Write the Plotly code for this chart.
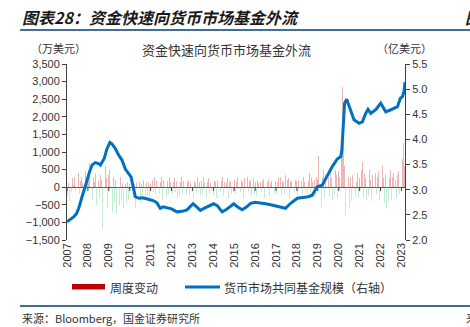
import plotly.graph_objects as go

# ---------------- data ----------------
years = list(range(2007, 2024))
tick_labels = [str(y) for y in years]

# semi-monthly fund-flow changes (万美元), 24 per year
flow_2007 = [-250, 120, -400, 180, 90, -150, 250, 60, 300, -100, 150, 220, 80, 400, -200, 180, 280, 120, -300, 350, 200, 450, -150, 300]
flow_2008 = [350, 700, -200, 250, 500, -350, 300, 150, 400, -500, 250, 600, 180, -300, 350, 200, -1200, 300, 500, -450, 600, 250, -600, 350]
flow_2009 = [500, -300, 600, 350, -700, 300, -450, 200, -750, 250, -400, 150, -500, 300, -350, 120, -600, 200, -300, 100, -450, 150, -350, 80]
flow_2010 = [-400, 100, -550, 150, -300, 80, -600, 120, -350, 60, -250, 150, -450, 100, -300, 200, -200, 90, -350, 150, -250, 120, -300, 100]
flow_2011 = [150, -250, 200, -150, 300, -200, 180, 545, -300, 250, -200, 150, 300, -350, 200, -150, 250, 120, -250, 180, -200, 280, 150, -180]
flow_2012 = [200, -200, 150, 250, -150, 180, -300, 120, 200, -250, 150, 300, -200, 180, 120, -150, 250, -200, 150, 200, -250, 120, 180, -150]
flow_2013 = [250, -300, 180, 120, -200, 300, -150, 200, 150, -250, 180, -200, 280, 120, -150, 200, -300, 150, 250, -180, 120, 300, -200, 150]
flow_2014 = [-250, 180, 150, -300, 200, 120, -200, 250, -150, 180, 300, -250, 150, 200, -180, 120, 250, -300, 180, 150, -200, 220, 120, -150]
flow_2015 = [200, -200, 150, 280, -250, 180, 120, -150, 200, 150, -300, 250, 180, -200, 120, 300, -150, 180, 200, -250, 150, 120, 250, -180]
flow_2016 = [150, -250, 200, 120, -200, 300, 150, -150, 180, 220, -300, 120, 250, -180, 150, 200, -250, 120, 180, -150, 250, 150, -200, 180]
flow_2017 = [-200, 150, 250, -150, 120, 300, -250, 180, 150, -200, 350, 120, -150, 200, 250, -300, 150, 180, -200, 120, 250, -150, 200, 180]
flow_2018 = [-250, 200, 150, -300, 250, 180, -200, 300, 150, -150, 350, 200, -250, 180, 400, -200, 250, 150, -300, 450, 200, -250, 300, 200]
flow_2019 = [900, -350, 300, 450, -550, 250, 500, -300, 350, 200, -400, 450, 300, -250, 550, 250, -350, 400, 300, -200, 500, 350, -300, 450]
flow_2020 = [300, 450, -300, 1000, 2855, 1340, 600, -800, 700, -500, 450, 300, -600, 250, -400, 350, 200, -350, 300, -250, 150, 400, -300, 250]
flow_2021 = [350, -400, 500, 725, -300, 400, 250, -350, 450, 300, -250, 500, 200, -400, 350, 600, -300, 250, 400, -200, 300, 450, -350, 250]
flow_2022 = [400, -300, 600, 250, -450, 350, -590, 300, 450, -400, 250, 500, -350, 300, 400, -250, 550, 200, -300, 350, 450, -200, 820, 300]
flow_2023 = [500, 800, 1250, 600]

# money-market fund assets (right axis)
aum_x = [2007.0, 2007.15, 2007.32, 2007.45, 2007.56, 2007.72, 2007.85, 2007.96, 2008.08, 2008.2,
         2008.35, 2008.5, 2008.6, 2008.7, 2008.78, 2008.9, 2009.05, 2009.15, 2009.31, 2009.47,
         2009.63, 2009.79, 2009.95, 2010.07, 2010.16, 2010.27, 2010.43, 2010.6, 2010.8, 2011.0,
         2011.15, 2011.3, 2011.46, 2011.6, 2011.8, 2012.0, 2012.26, 2012.5, 2012.74, 2012.9,
         2013.03, 2013.15, 2013.38, 2013.6, 2013.8, 2014.02, 2014.2, 2014.42, 2014.6, 2014.8,
         2014.98, 2015.15, 2015.38, 2015.6, 2015.78, 2016.0, 2016.26, 2016.5, 2016.74, 2017.06,
         2017.25, 2017.45, 2017.7, 2018.02, 2018.33, 2018.55, 2018.73, 2018.97, 2019.21, 2019.45,
         2019.69, 2019.93, 2020.1, 2020.15, 2020.2, 2020.28, 2020.38, 2020.57, 2020.73, 2020.97,
         2021.13, 2021.29, 2021.4, 2021.53, 2021.77, 2022.01, 2022.25, 2022.49, 2022.65, 2022.81,
         2022.95, 2023.05, 2023.12, 2023.17]
aum_y = [2.36, 2.40, 2.46, 2.52, 2.63, 2.86, 3.02, 3.19, 3.36, 3.49,
         3.54, 3.52, 3.49, 3.55, 3.62, 3.80, 3.94, 3.91, 3.82, 3.69,
         3.59, 3.41, 3.33, 3.25, 3.06, 2.86, 2.83, 2.84, 2.82, 2.80,
         2.78, 2.74, 2.63, 2.66, 2.64, 2.62, 2.56, 2.57, 2.60, 2.66,
         2.72, 2.68, 2.59, 2.64, 2.68, 2.72, 2.68, 2.56, 2.60, 2.66,
         2.72, 2.66, 2.60, 2.66, 2.73, 2.75, 2.74, 2.72, 2.70, 2.66,
         2.65, 2.63, 2.73, 2.83, 2.85, 2.86, 2.89, 3.06, 3.09, 3.29,
         3.46, 3.61, 3.66, 3.80, 4.26, 4.72, 4.80, 4.59, 4.39, 4.32,
         4.35, 4.52, 4.60, 4.52, 4.59, 4.72, 4.55, 4.59, 4.62, 4.65,
         4.82, 4.85, 4.95, 5.14]

# ---------------- build ----------------
flow_years = [flow_2007, flow_2008, flow_2009, flow_2010, flow_2011, flow_2012, flow_2013, flow_2014,
              flow_2015, flow_2016, flow_2017, flow_2018, flow_2019, flow_2020, flow_2021, flow_2022, flow_2023]
bar_x, bar_y = [], []
for yr, vals in zip(years, flow_years):
    for i, v in enumerate(vals):
        bar_x.append(yr + (i + 0.5) / 24)
        bar_y.append(v)
bar_colors = ["rgba(210,60,60,0.38)" if v >= 0 else "rgba(60,190,110,0.30)" for v in bar_y]

CJK = "Noto Sans CJK SC"
LAT = "Liberation Sans"

fig = go.Figure()
fig.add_trace(go.Bar(x=bar_x, y=bar_y, width=1 / 24 * 0.75, marker=dict(color=bar_colors, line=dict(width=0)),
                     name="周度变动", showlegend=False))
fig.add_trace(go.Scatter(x=aum_x, y=aum_y, mode="lines", yaxis="y2",
                         line=dict(color="#0070C0", width=3), name="货币市场共同基金规模（右轴）", showlegend=False))

W, H = 470, 327
L, R, T, B = 67, 405, 64, 240


def px(x):
    return (x - L) / (R - L)


def py(y):
    return (B - y) / (B - T)


shapes = []
# x tick marks on the zero line
for yv in years:
    shapes.append(dict(type="line", xref="x", yref="y", x0=yv, x1=yv, y0=0, y1=-110,
                       line=dict(color="#404040", width=1)))
# header / footer rules
for yy in (30, 306):
    shapes.append(dict(type="line", xref="paper", yref="paper", x0=px(20), x1=px(470), y0=py(yy), y1=py(yy),
                       line=dict(color="#3E7096", width=2)))
# legend symbols
shapes.append(dict(type="rect", xref="paper", yref="paper", x0=px(72), x1=px(105), y0=py(289.5), y1=py(284),
                   fillcolor="#C00000", line=dict(width=0)))
shapes.append(dict(type="line", xref="paper", yref="paper", x0=px(185), x1=px(220), y0=py(287), y1=py(287),
                   line=dict(color="#0070C0", width=3)))


def ann(text, x, y, size, anchor="left", font=CJK, color="#333333"):
    return dict(text=text, xref="paper", yref="paper", x=px(x), y=py(y), xanchor=anchor, yanchor="middle",
                showarrow=False, font=dict(family=font, size=size, color=color))


annotations = [
    ann("<b><i>图表28：资金快速向货币市场基金外流</i></b>", 20, 17, 16, color="#1a1a1a"),
    ann("<b><i>图</i></b>", 463, 17, 16, color="#1a1a1a"),
    ann("资金快速向货币市场基金外流", 226, 50, 13, anchor="center"),
    ann("（万美元）", 58, 48, 11, anchor="center"),
    ann("（亿美元）", 404, 48, 11, anchor="center"),
    ann("周度变动", 108, 287, 12),
    ann("货币市场共同基金规模（右轴）", 222, 287, 12),
    ann("来源：Bloomberg，国金证券研究所", 20, 318, 11),
    ann("来", 464, 318, 11),
]

fig.update_layout(
    width=W, height=H,
    margin=dict(l=L, r=W - R, t=T, b=H - B, pad=0),
    paper_bgcolor="white", plot_bgcolor="white",
    bargap=0,
    font=dict(family=LAT, size=11, color="#333333"),
    xaxis=dict(range=[2007, 2023.17], tickmode="array", tickvals=years, ticktext=tick_labels,
               tickangle=-90, showgrid=False, zeroline=False, showline=False, ticks="",
               tickfont=dict(family=LAT, size=11, color="#333333")),
    yaxis=dict(range=[-1500, 3500], dtick=500, tickformat=",", showgrid=False,
               zeroline=True, zerolinecolor="#595959", zerolinewidth=1,
               showline=True, linecolor="#404040", linewidth=1, ticks="outside", ticklen=4,
               tickcolor="#404040", tickfont=dict(family=LAT, size=11, color="#333333")),
    yaxis2=dict(range=[2.0, 5.5], dtick=0.5, tickformat=".1f", overlaying="y", side="right",
                showgrid=False, zeroline=False, showline=True, linecolor="#404040", linewidth=1,
                ticks="outside", ticklen=4, tickcolor="#404040",
                tickfont=dict(family=LAT, size=11, color="#333333")),
    shapes=shapes,
    annotations=annotations,
)

fig.write_html("out.html")
